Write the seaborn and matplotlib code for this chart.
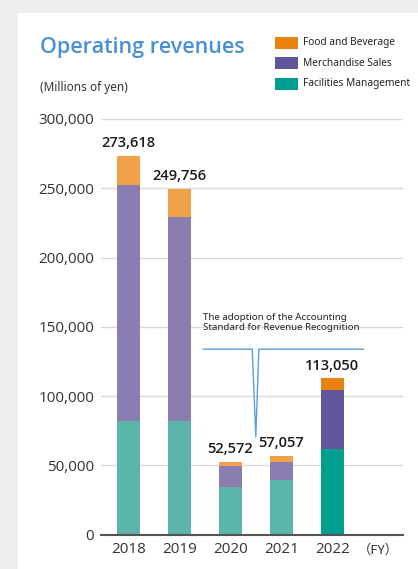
import matplotlib
matplotlib.use('Agg')
import matplotlib.pyplot as plt
from matplotlib.patches import Rectangle
import seaborn as sns
import pandas as pd

# Data (millions of yen)
years = ['2018', '2019', '2020', '2021', '2022']
facilities = [82000, 82000, 34400, 39400, 61800]
merchandise = [170300, 147300, 15100, 13000, 42500]
food = [21318, 20456, 3072, 4657, 8750]
totals = [273618, 249756, 52572, 57057, 113050]
total_labels = ['273,618', '249,756', '52,572', '57,057', '113,050']

fm_colors = ['#5bb5aa'] * 4 + ['#009e8e']
ms_colors = ['#8b7db2'] * 4 + ['#62559a']
fb_colors = ['#efa24a'] * 4 + ['#e8830f']
legend_names = ['Food and Beverage', 'Merchandise Sales', 'Facilities Management']
legend_colors = ['#e8830f', '#62559a', '#009e8e']

df = pd.DataFrame({'year': years, 'fm': facilities, 'ms': merchandise, 'fb': food})
df['top_ms'] = df['fm'] + df['ms']
df['top_fb'] = df['top_ms'] + df['fb']

sns.set_style('white')
plt.rcParams['font.family'] = ['Open Sans', 'DejaVu Sans']

fig = plt.figure(figsize=(4.18, 5.69), dpi=100)
fig.patch.set_facecolor('#eeeeee')
fig.add_artist(Rectangle((18 / 418, 0), 1, (569 - 13) / 569, transform=fig.transFigure,
                         facecolor='white', edgecolor='none', zorder=0))

ax = fig.add_axes([101 / 418, 34.3 / 569, 302 / 418, 415.7 / 569])
ax.set_facecolor('none')

# stacked bars: draw cumulative heights from tallest down
for col, cols in [('top_fb', fb_colors), ('top_ms', ms_colors), ('fm', fm_colors)]:
    sns.barplot(data=df, x='year', y=col, hue='year', palette=cols, order=years,
                width=0.457, legend=False, saturation=1, linewidth=0, ax=ax, zorder=3)

for i, lab in enumerate(total_labels):
    ax.annotate(lab, (i, totals[i]), xytext=(0, 9), textcoords='offset points',
                ha='center', va='center', fontsize=10.5, fontweight='semibold', color='#1a1a1a')

ax.set_xlim(-0.535, 5.386)
ax.set_ylim(0, 300000)
ax.set_yticks(range(0, 300001, 50000))
ax.set_yticklabels([f'{v:,}' for v in range(0, 300001, 50000)])
ax.grid(axis='y', color='#d9d9d9', linewidth=1, zorder=0)
ax.set_xlabel('')
ax.set_ylabel('')
ax.tick_params(axis='both', length=0, labelsize=11, colors='#333333')
ax.tick_params(axis='y', pad=5)
ax.tick_params(axis='x', pad=5)
ax.text(4.9, -0.022, '（FY）', transform=ax.get_xaxis_transform(), ha='center', va='top',
        fontsize=9.5, color='#333333', family=['Noto Sans CJK JP', 'DejaVu Sans'])
for s in ['left', 'right', 'top']:
    ax.spines[s].set_visible(False)
ax.spines['bottom'].set_color('#555555')
ax.spines['bottom'].set_linewidth(1.5)
ax.spines['bottom'].set_zorder(4)

# annotation bracket for accounting standard change
bx = [1.465, 2.43, 2.5, 2.56, 4.62]
by = [133900, 133900, 70700, 133900, 133900]
ax.plot(bx, by, color='#5aa0dc', linewidth=1, zorder=5, clip_on=False)
ax.text(1.465, 146000, 'The adoption of the Accounting\nStandard for Revenue Recognition',
        ha='left', va='bottom', fontsize=7, color='#222222', linespacing=1.2, zorder=5,
        family=['Noto Sans', 'DejaVu Sans'])

fig.text(40 / 418, 1 - 47 / 569, 'Operating revenues', ha='left', va='center',
         fontsize=15.5, fontweight='semibold', color='#4a8fd6')
fig.text(40 / 418, 1 - 88 / 569, '(Millions of yen)', ha='left', va='center',
         fontsize=8.5, color='#333333', family=['Noto Sans', 'DejaVu Sans'])

for k, (name, c) in enumerate(zip(legend_names, legend_colors)):
    yc = 42.5 + k * 20.5
    fig.add_artist(Rectangle((275 / 418, 1 - (yc + 6) / 569), 23 / 418, 12 / 569,
                             transform=fig.transFigure, facecolor=c, edgecolor='none'))
    fig.text(303 / 418, 1 - yc / 569, name, ha='left', va='center', fontsize=7.3,
             color='#222222', family=['Noto Sans', 'DejaVu Sans'])

fig.savefig('out.png', dpi=100, facecolor=fig.get_facecolor())
